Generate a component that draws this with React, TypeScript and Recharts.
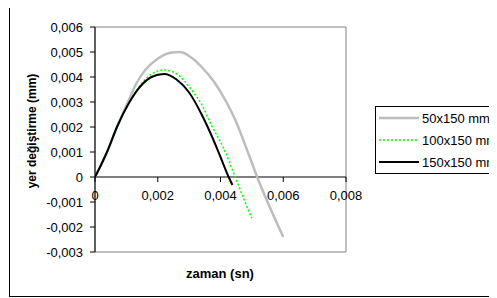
import { LineChart, Line, XAxis, YAxis, ReferenceLine, ReferenceArea } from 'recharts';

// zaman (sn) / yer değiştirme (mm)
const t50 = [0, 0.0004, 0.0007, 0.00105, 0.0013, 0.0016, 0.002, 0.0024, 0.0027, 0.0031, 0.0034, 0.0038, 0.0042, 0.0045, 0.0049, 0.0052, 0.0055, 0.006];
const y50 = [0, 0.00105, 0.002, 0.003, 0.0037, 0.00428, 0.00473, 0.00497, 0.005, 0.00475, 0.0044, 0.0038, 0.00297, 0.0022, 0.0009, -0.0001, -0.001, -0.0024];

const t100 = [0, 0.0002, 0.0004, 0.0007, 0.0011, 0.0014, 0.0017, 0.0022, 0.0026, 0.0031, 0.0034, 0.0037, 0.0041, 0.00447, 0.00475, 0.005];
const y100 = [0, 0.0005, 0.00105, 0.002, 0.003, 0.0036, 0.00402, 0.00428, 0.00413, 0.00345, 0.0029, 0.0021, 0.00115, 0, -0.0009, -0.00165];

const t150 = [0, 0.0002, 0.0004, 0.0007, 0.0011, 0.0015, 0.0018, 0.0022, 0.0026, 0.003, 0.0034, 0.0037, 0.004, 0.00426, 0.00438];
const y150 = [0, 0.0005, 0.00105, 0.002, 0.003, 0.0037, 0.004, 0.00412, 0.0039, 0.00338, 0.0025, 0.0017, 0.0008, 0, -0.00032];

const xTicks = [0, 0.002, 0.004, 0.006, 0.008];
const yTicks = [-0.003, -0.002, -0.001, 0, 0.001, 0.002, 0.003, 0.004, 0.005, 0.006];

const toPoints = (ts: number[], vs: number[]) => ts.map((t, i) => ({ t, v: vs[i] }));

const SERIES = [
  { name: '50x150 mm', data: toPoints(t50, y50), stroke: '#bdbdbd', width: 2.5, dash: undefined },
  { name: '100x150 mm', data: toPoints(t100, y100), stroke: '#00ff00', width: 1.5, dash: '2 2' },
  { name: '150x150 mm', data: toPoints(t150, y150), stroke: '#000000', width: 2, dash: undefined },
];

const FONT = 'Arial, "Liberation Sans", sans-serif';
const W = 497;
const H = 298;
const TOP = 27;
const PLOT_H = 225;
const X_AXIS_H = 20;
const Y_MIN = -0.003;
const Y_MAX = 0.006;
const ZERO_Y = TOP + (PLOT_H * Y_MAX) / (Y_MAX - Y_MIN);

const fmt = (v: number) => (Math.abs(v) < 1e-9 ? '0' : v.toFixed(3).replace('.', ','));

const XTick = ({ x, payload }: any) => (
  <g>
    <line x1={x} x2={x} y1={ZERO_Y} y2={ZERO_Y + 5} stroke="#000" />
    <text x={x} y={ZERO_Y + 23} textAnchor="middle" fontSize={13} fill="#000" fontFamily={FONT}>
      {fmt(payload.value)}
    </text>
  </g>
);

export default function App() {
  return (
    <div
      style={{
        position: 'relative',
        width: W,
        height: H,
        marginTop: -8,
        marginLeft: -8,
        overflow: 'hidden',
        background: '#fff',
        fontFamily: FONT,
      }}
    >
      <div
        style={{
          position: 'absolute',
          left: 9,
          top: 5,
          width: 600,
          height: 292,
          boxSizing: 'border-box',
          border: '1px solid #000',
        }}
      />
      <LineChart
        width={W}
        height={H}
        margin={{ top: TOP, right: 151, bottom: H - TOP - PLOT_H - X_AXIS_H, left: 0 }}
        style={{ position: 'absolute', left: 0, top: 0 }}
      >
        <ReferenceArea x1={0} x2={0.008} y1={Y_MIN} y2={Y_MAX} fill="none" stroke="#808080" />
        <XAxis
          type="number"
          dataKey="t"
          domain={[0, 0.008]}
          ticks={xTicks}
          height={X_AXIS_H}
          axisLine={false}
          tickLine={false}
          tick={<XTick />}
          allowDataOverflow
        />
        <YAxis
          type="number"
          dataKey="v"
          domain={[Y_MIN, Y_MAX]}
          ticks={yTicks}
          width={95}
          axisLine={{ stroke: '#000' }}
          tickLine={{ stroke: '#000' }}
          tickSize={5}
          tickMargin={7}
          tickFormatter={fmt}
          tick={{ fontSize: 13, fill: '#000', fontFamily: FONT }}
          interval={0}
          allowDataOverflow
        />
        <ReferenceLine y={0} stroke="#000" />
        {SERIES.map((s) => (
          <Line
            key={s.name}
            data={s.data}
            dataKey="v"
            name={s.name}
            type="monotone"
            stroke={s.stroke}
            strokeWidth={s.width}
            strokeDasharray={s.dash}
            dot={false}
            activeDot={false}
            isAnimationActive={false}
          />
        ))}
      </LineChart>
      <svg width={W} height={H} style={{ position: 'absolute', left: 0, top: 0, pointerEvents: 'none' }}>
        <text x={220} y={278} textAnchor="middle" fontSize={13} fontWeight="bold" fill="#000" fontFamily={FONT}>
          zaman (sn)
        </text>
        <text
          transform="translate(36,131) rotate(-90)"
          textAnchor="middle"
          fontSize={12}
          fontWeight="bold"
          fill="#000"
          fontFamily={FONT}
        >
          yer değiştirme (mm)
        </text>
      </svg>
      <div
        style={{
          position: 'absolute',
          left: 375,
          top: 106,
          width: 200,
          boxSizing: 'border-box',
          border: '1px solid #000',
          background: '#fff',
        }}
      >
        {SERIES.map((s) => (
          <div key={s.name} style={{ display: 'flex', alignItems: 'center', height: 22 }}>
            <svg width={44} height={22} style={{ flex: 'none' }}>
              <line x1={3} x2={43} y1={11} y2={11} stroke={s.stroke} strokeWidth={s.width} strokeDasharray={s.dash} />
            </svg>
            <span style={{ fontSize: 13, color: '#000', marginLeft: 2, whiteSpace: 'nowrap' }}>{s.name}</span>
          </div>
        ))}
      </div>
    </div>
  );
}
